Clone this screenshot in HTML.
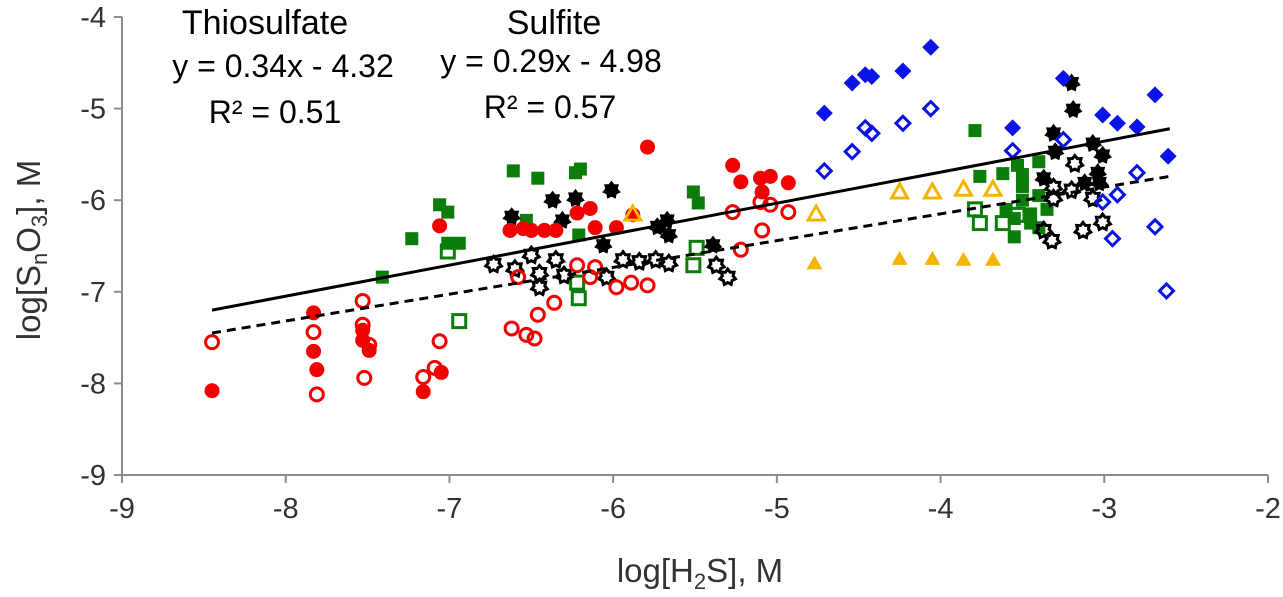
<!DOCTYPE html>
<html><head><meta charset="utf-8">
<style>
html,body{margin:0;padding:0;background:#fff;}
svg{display:block;font-family:"Liberation Sans",Arial,sans-serif;}
</style></head>
<body>
<svg id="chart" width="1283" height="597" viewBox="0 0 1283 597">
  <g id="axes"></g>
  <g id="marks"></g>
  <g id="annot">
    <text x="265" y="34" font-size="34" text-anchor="middle">Thiosulfate</text>
    <text x="283" y="77" font-size="32" text-anchor="middle">y = 0.34x - 4.32</text>
    <text x="275" y="123" font-size="32" text-anchor="middle">R² = 0.51</text>
    <text x="554" y="34" font-size="34" text-anchor="middle">Sulfite</text>
    <text x="551" y="72" font-size="32" text-anchor="middle">y = 0.29x - 4.98</text>
    <text x="550" y="118" font-size="32" text-anchor="middle">R² = 0.57</text>
  </g>
  <text x="700" y="582" font-size="33" text-anchor="middle" fill="#333">log[H<tspan font-size="22" dy="7">2</tspan><tspan dy="-7">S], M</tspan></text>
  <text transform="translate(40,250) rotate(-90)" font-size="33" text-anchor="middle" fill="#333">log[S<tspan font-size="22" dy="7">n</tspan><tspan dy="-7">O</tspan><tspan font-size="22" dy="7">3</tspan><tspan dy="-7">], M</tspan></text>
</svg>
<script>
const xTicks=[-9,-8,-7,-6,-5,-4,-3,-2];
const yTicks=[-4,-5,-6,-7,-8,-9];
const redFilled=[[-7.06,-6.28],[-7.83,-7.23],[-7.83,-7.65],[-7.81,-7.85],[-8.45,-8.08],[-7.53,-7.42],[-7.53,-7.53],[-7.49,-7.64],[-7.16,-8.09],[-7.05,-7.88],[-5.79,-5.42],[-5.27,-5.62],[-5.22,-5.8],[-5.1,-5.76],[-5.04,-5.74],[-5.09,-5.91],[-4.93,-5.81],[-6.63,-6.33],[-6.55,-6.31],[-6.5,-6.33],[-6.42,-6.33],[-6.35,-6.33],[-6.22,-6.14],[-6.14,-6.09],[-6.11,-6.3],[-5.98,-6.3],[-5.88,-6.16]];
const redOpen=[[-8.45,-7.55],[-7.83,-7.44],[-7.81,-8.12],[-7.53,-7.1],[-7.53,-7.36],[-7.49,-7.58],[-7.52,-7.94],[-7.06,-7.54],[-7.16,-7.93],[-7.09,-7.83],[-6.62,-7.4],[-5.27,-6.13],[-5.1,-6.02],[-5.04,-6.05],[-4.93,-6.13],[-5.09,-6.33],[-5.22,-6.54],[-6.58,-6.84],[-6.22,-6.71],[-6.11,-6.73],[-6.14,-6.84],[-5.98,-6.95],[-5.89,-6.9],[-5.79,-6.93],[-6.36,-7.12],[-6.46,-7.25],[-6.53,-7.47],[-6.48,-7.51]];
const greenFilled=[[-7.06,-6.05],[-7.01,-6.13],[-7.23,-6.42],[-7.01,-6.47],[-6.94,-6.47],[-7.41,-6.84],[-6.61,-5.68],[-6.46,-5.76],[-6.23,-5.7],[-6.2,-5.66],[-5.51,-5.91],[-5.48,-6.03],[-6.53,-6.22],[-6.21,-6.38],[-3.79,-5.24],[-3.76,-5.74],[-3.62,-5.71],[-3.53,-5.62],[-3.5,-5.72],[-3.4,-5.58],[-3.6,-6.1],[-3.55,-6.2],[-3.5,-6.0],[-3.45,-6.15],[-3.4,-5.95],[-3.35,-6.1],[-3.55,-6.4],[-3.4,-6.3],[-3.5,-5.85],[-3.45,-6.25]];
const greenOpen=[[-6.94,-7.32],[-7.01,-6.56],[-5.49,-6.52],[-5.51,-6.71],[-6.21,-7.07],[-6.22,-6.9],[-3.79,-6.1],[-3.76,-6.25],[-3.62,-6.25],[-3.53,-6.16]];
const blackFilled=[[-6.01,-5.89],[-6.37,-6.0],[-6.23,-5.98],[-6.62,-6.18],[-6.31,-6.22],[-6.06,-6.49],[-5.73,-6.29],[-5.67,-6.22],[-5.66,-6.38],[-5.39,-6.49],[-3.2,-4.72],[-3.19,-5.01],[-3.31,-5.27],[-3.3,-5.47],[-3.07,-5.38],[-3.01,-5.51],[-3.04,-5.7],[-3.03,-5.81],[-3.37,-5.76],[-3.12,-5.81]];
const blackOpen=[[-6.73,-6.7],[-6.6,-6.75],[-6.5,-6.6],[-6.45,-6.8],[-6.35,-6.65],[-6.45,-6.95],[-6.3,-6.82],[-5.94,-6.65],[-5.84,-6.67],[-5.74,-6.65],[-5.66,-6.69],[-5.37,-6.71],[-5.3,-6.84],[-6.04,-6.84],[-3.18,-5.6],[-3.31,-5.86],[-3.2,-5.89],[-3.07,-5.98],[-3.37,-6.33],[-3.32,-6.44],[-3.13,-6.33],[-3.01,-6.24],[-3.31,-5.98]];
const blueFilled=[[-4.06,-4.33],[-4.23,-4.59],[-4.46,-4.63],[-4.42,-4.65],[-4.54,-4.72],[-4.71,-5.05],[-3.56,-5.21],[-3.25,-4.67],[-3.01,-5.07],[-2.92,-5.16],[-2.8,-5.2],[-2.69,-4.85],[-2.61,-5.52]];
const blueOpen=[[-4.71,-5.68],[-4.54,-5.47],[-4.46,-5.21],[-4.42,-5.27],[-4.23,-5.16],[-4.06,-5.0],[-3.56,-5.46],[-3.25,-5.34],[-2.8,-5.7],[-3.01,-6.02],[-2.92,-5.94],[-2.69,-6.29],[-2.95,-6.42],[-2.62,-6.99]];
const orangeFilled=[[-4.77,-6.69],[-4.25,-6.64],[-4.05,-6.64],[-3.86,-6.65],[-3.68,-6.65]];
const orangeOpen=[[-4.76,-6.15],[-4.25,-5.91],[-4.05,-5.91],[-3.86,-5.88],[-3.68,-5.88],[-5.88,-6.15]];
const thioLine=[[-8.45,-7.2],[-2.6,-5.22]];
const sulfLine=[[-8.45,-7.45],[-2.6,-5.74]];

const NS="http://www.w3.org/2000/svg";
const X0=122,X1=1268,Y0=17,Y1=475;
const sx=v=>X0+(v+9)/7*(X1-X0);
const sy=v=>Y0+(-4-v)/5*(Y1-Y0);
function mk(tag,attrs,parent){const e=document.createElementNS(NS,tag);for(const k in attrs)e.setAttribute(k,attrs[k]);parent.appendChild(e);return e;}
const axes=document.getElementById('axes'),marks=document.getElementById('marks');
const ax=mk('line',{x1:X0,y1:Y0,x2:X0,y2:Y1,stroke:'#8c8c8c','stroke-width':2},axes);


const bx=mk('line',{x1:X0,y1:Y1,x2:X1,y2:Y1,stroke:'#8c8c8c','stroke-width':2},axes);


xTicks.forEach(t=>{
  const l=mk('line',{x1:sx(t),y1:Y1,x2:sx(t),y2:Y1+8,stroke:'#8c8c8c','stroke-width':2},axes);
  
  
  const tx=mk('text',{x:sx(t),y:Y1+43,'font-size':29,'text-anchor':'middle',fill:'#333'},axes);
  tx.textContent=String(t);
  
  
});
yTicks.forEach(t=>{
  const l=mk('line',{x1:X0-8,y1:sy(t),x2:X0,y2:sy(t),stroke:'#8c8c8c','stroke-width':2},axes);
  
  
  const tx=mk('text',{x:X0-16,y:sy(t)+10,'font-size':29,'text-anchor':'end',fill:'#333'},axes);
  tx.textContent=String(t);
  
  
});
function starPts(cx,cy,R,r,n){let p=[];for(let i=0;i<2*n;i++){const a=Math.PI*i/n-Math.PI/2;const rr=i%2?r:R;p.push((cx+rr*Math.cos(a)).toFixed(1)+','+(cy+rr*Math.sin(a)).toFixed(1));}return p.join(' ');}
function draw(data,shape,color,filled,name){
  data.forEach(d=>{
    const cx=sx(d[0]),cy=sy(d[1]);let e;
    const fill=filled?color:'none',sw=filled?0:3;
    if(shape==='circle')e=mk('circle',{cx:cx,cy:cy,r:filled?7.5:6.5,fill:fill,stroke:color,'stroke-width':sw},marks);
    else if(shape==='square')e=mk('rect',{x:cx-6.5,y:cy-6.5,width:13,height:13,fill:fill,stroke:color,'stroke-width':sw},marks);
    else if(shape==='diamond'){const q=filled?8.5:7;e=mk('polygon',{points:`${cx},${cy-q} ${cx+q},${cy} ${cx},${cy+q} ${cx-q},${cy}`,fill:fill,stroke:color,'stroke-width':filled?0:3},marks);}
    else if(shape==='triangle')e=mk('polygon',{points:`${cx},${cy-8} ${cx+8},${cy+6} ${cx-8},${cy+6}`,fill:fill,stroke:color,'stroke-width':filled?0:3},marks);
    else e=mk('polygon',{points:filled?starPts(cx,cy,9.5,6.5,7):starPts(cx,cy,8,5.5,7),fill:fill,stroke:color,'stroke-width':filled?0:3},marks);
    
    
  });
}
draw(greenOpen,'square','#0a7d0a',false,'green-open-point');
draw(greenFilled,'square','#0a7d0a',true,'green-filled-point');
draw(blackOpen,'star','#000',false,'black-open-point');
draw(blackFilled,'star','#000',true,'black-filled-point');
draw(redOpen,'circle','#f20000',false,'red-open-point');
draw(redFilled,'circle','#f20000',true,'red-filled-point');
draw(blueOpen,'diamond','#0a14e6',false,'blue-open-point');
draw(blueFilled,'diamond','#0a14e6',true,'blue-filled-point');
draw(orangeOpen,'triangle','#f5b400',false,'orange-open-point');
draw(orangeFilled,'triangle','#f5b400',true,'orange-filled-point');
const tl=mk('line',{x1:sx(thioLine[0][0]),y1:sy(thioLine[0][1]),x2:sx(thioLine[1][0]),y2:sy(thioLine[1][1]),stroke:'#000','stroke-width':3},marks);


const sl=mk('line',{x1:sx(sulfLine[0][0]),y1:sy(sulfLine[0][1]),x2:sx(sulfLine[1][0]),y2:sy(sulfLine[1][1]),stroke:'#000','stroke-width':3,'stroke-dasharray':'9,6'},marks);


</script>
</body></html>
